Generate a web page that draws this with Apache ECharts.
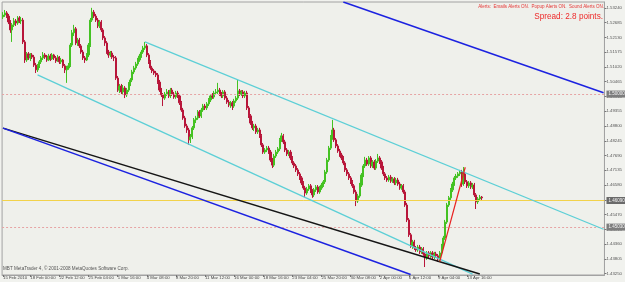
<!DOCTYPE html>
<html><head><meta charset="utf-8">
<script src="https://cdn.jsdelivr.net/npm/echarts/dist/echarts.min.js"></script>
<style>html,body{margin:0;padding:0;background:#f1f2ee;overflow:hidden}#c{width:625px;height:282px}</style>
</head><body><div id="c"></div>
<script>
// H4 bars, GBP/USD-like quotes
const opens=[
1.5290,1.5297,1.5305,1.5293,1.5271,1.5241,1.5260,1.5275,1.5267,1.5286,
1.5275,1.5278,1.5196,1.5128,1.5151,1.5136,1.5147,1.5139,1.5109,1.5091,
1.5106,1.5121,1.5136,1.5147,1.5139,1.5128,1.5143,1.5132,1.5147,1.5136,
1.5124,1.5139,1.5121,1.5128,1.5106,1.5091,1.5098,1.5106,1.5184,1.5230,
1.5245,1.5192,1.5203,1.5181,1.5158,1.5136,1.5128,1.5147,1.5184,1.5278,
1.5308,1.5293,1.5278,1.5256,1.5271,1.5241,1.5211,1.5192,1.5158,1.5147,
1.5154,1.5139,1.5136,1.5060,1.5015,1.5030,1.5008,1.5023,1.4997,1.5015,
1.5038,1.5053,1.5083,1.5098,1.5113,1.5128,1.5143,1.5158,1.5173,1.5181,
1.5147,1.5121,1.5098,1.5087,1.5079,1.5072,1.5045,1.5015,1.4997,1.4985,
1.5000,1.5008,1.4993,1.5015,1.5000,1.4989,1.5004,1.4993,1.4967,1.4940,
1.4910,1.4880,1.4865,1.4828,1.4839,1.4873,1.4903,1.4910,1.4933,1.4918,
1.4940,1.4955,1.4948,1.4963,1.4978,1.4993,1.4989,1.5004,1.5008,1.5015,
1.5000,1.4993,1.5008,1.4985,1.4970,1.4959,1.4967,1.4955,1.4974,1.4985,
1.5012,1.5000,1.5008,1.4993,1.5004,1.4948,1.4918,1.4891,1.4873,1.4880,
1.4858,1.4865,1.4843,1.4809,1.4782,1.4790,1.4797,1.4782,1.4752,1.4733,
1.4767,1.4782,1.4794,1.4828,1.4843,1.4820,1.4790,1.4775,1.4782,1.4760,
1.4741,1.4730,1.4715,1.4700,1.4685,1.4666,1.4647,1.4628,1.4643,1.4655,
1.4636,1.4621,1.4640,1.4651,1.4632,1.4647,1.4658,1.4670,1.4707,1.4752,
1.4797,1.4835,1.4865,1.4828,1.4805,1.4786,1.4771,1.4760,1.4741,1.4715,
1.4700,1.4685,1.4670,1.4655,1.4632,1.4598,1.4617,1.4658,1.4696,1.4730,
1.4752,1.4737,1.4760,1.4730,1.4745,1.4722,1.4748,1.4760,1.4745,1.4722,
1.4700,1.4685,1.4677,1.4688,1.4673,1.4681,1.4666,1.4677,1.4662,1.4647,
1.4655,1.4632,1.4583,1.4527,1.4471,1.4429,1.4444,1.4422,1.4414,1.4425,
1.4407,1.4418,1.4399,1.4384,1.4403,1.4392,1.4403,1.4388,1.4399,1.4392,
1.4380,1.4403,1.4429,1.4459,1.4519,1.4583,1.4610,1.4640,1.4662,1.4685,
1.4692,1.4700,1.4707,1.4662,1.4700,1.4670,1.4655,1.4666,1.4651,1.4658,
1.4621,1.4595,1.4606,1.4613];
const closes=[
1.5297,1.5305,1.5293,1.5271,1.5241,1.5260,1.5275,1.5267,1.5286,1.5275,
1.5278,1.5196,1.5128,1.5151,1.5136,1.5147,1.5139,1.5109,1.5091,1.5106,
1.5121,1.5136,1.5147,1.5139,1.5128,1.5143,1.5132,1.5147,1.5136,1.5124,
1.5139,1.5121,1.5128,1.5106,1.5091,1.5098,1.5106,1.5184,1.5230,1.5245,
1.5192,1.5203,1.5181,1.5158,1.5136,1.5128,1.5147,1.5184,1.5278,1.5308,
1.5293,1.5278,1.5256,1.5271,1.5241,1.5211,1.5192,1.5158,1.5147,1.5154,
1.5139,1.5136,1.5060,1.5015,1.5030,1.5008,1.5023,1.4997,1.5015,1.5038,
1.5053,1.5083,1.5098,1.5113,1.5128,1.5143,1.5158,1.5173,1.5181,1.5147,
1.5121,1.5098,1.5087,1.5079,1.5072,1.5045,1.5015,1.4997,1.4985,1.5000,
1.5008,1.4993,1.5015,1.5000,1.4989,1.5004,1.4993,1.4967,1.4940,1.4910,
1.4880,1.4865,1.4828,1.4839,1.4873,1.4903,1.4910,1.4933,1.4918,1.4940,
1.4955,1.4948,1.4963,1.4978,1.4993,1.4989,1.5004,1.5008,1.5015,1.5000,
1.4993,1.5008,1.4985,1.4970,1.4959,1.4967,1.4955,1.4974,1.4985,1.5012,
1.5000,1.5008,1.4993,1.5004,1.4948,1.4918,1.4891,1.4873,1.4880,1.4858,
1.4865,1.4843,1.4809,1.4782,1.4790,1.4797,1.4782,1.4752,1.4733,1.4767,
1.4782,1.4794,1.4828,1.4843,1.4820,1.4790,1.4775,1.4782,1.4760,1.4741,
1.4730,1.4715,1.4700,1.4685,1.4666,1.4647,1.4628,1.4643,1.4655,1.4636,
1.4621,1.4640,1.4651,1.4632,1.4647,1.4658,1.4670,1.4707,1.4752,1.4797,
1.4835,1.4865,1.4828,1.4805,1.4786,1.4771,1.4760,1.4741,1.4715,1.4700,
1.4685,1.4670,1.4655,1.4632,1.4598,1.4617,1.4658,1.4696,1.4730,1.4752,
1.4737,1.4760,1.4730,1.4745,1.4722,1.4748,1.4760,1.4745,1.4722,1.4700,
1.4685,1.4677,1.4688,1.4673,1.4681,1.4666,1.4677,1.4662,1.4647,1.4655,
1.4632,1.4583,1.4527,1.4471,1.4429,1.4444,1.4422,1.4414,1.4425,1.4407,
1.4418,1.4399,1.4384,1.4403,1.4392,1.4403,1.4388,1.4399,1.4392,1.4380,
1.4403,1.4429,1.4459,1.4519,1.4583,1.4610,1.4640,1.4662,1.4685,1.4692,
1.4700,1.4707,1.4662,1.4700,1.4670,1.4655,1.4666,1.4651,1.4658,1.4621,
1.4595,1.4606,1.4613,1.4610];
const lows=[
1.5282,1.5290,1.5286,1.5263,1.5230,1.5196,1.5252,1.5256,1.5260,1.5267,
1.5263,1.5188,1.5117,1.5121,1.5128,1.5124,1.5132,1.5102,1.5079,1.5083,
1.5098,1.5113,1.5128,1.5132,1.5121,1.5124,1.5124,1.5128,1.5128,1.5117,
1.5121,1.5113,1.5113,1.5098,1.5079,1.5042,1.5091,1.5102,1.5177,1.5218,
1.5184,1.5181,1.5173,1.5151,1.5128,1.5117,1.5124,1.5139,1.5177,1.5271,
1.5286,1.5271,1.5248,1.5248,1.5233,1.5203,1.5181,1.5151,1.5136,1.5139,
1.5132,1.5124,1.5053,1.5008,1.5004,1.5000,1.4997,1.4985,1.4989,1.5008,
1.5030,1.5045,1.5075,1.5091,1.5106,1.5121,1.5136,1.5151,1.5166,1.5139,
1.5113,1.5091,1.5079,1.5072,1.5064,1.5038,1.5008,1.4989,1.4955,1.4978,
1.4993,1.4985,1.4985,1.4993,1.4982,1.4982,1.4985,1.4959,1.4933,1.4903,
1.4873,1.4854,1.4809,1.4816,1.4831,1.4865,1.4891,1.4903,1.4910,1.4910,
1.4933,1.4940,1.4940,1.4955,1.4970,1.4982,1.4982,1.4997,1.5000,1.4993,
1.4985,1.4985,1.4978,1.4963,1.4951,1.4948,1.4940,1.4948,1.4967,1.4978,
1.4993,1.4993,1.4985,1.4985,1.4940,1.4910,1.4884,1.4865,1.4861,1.4850,
1.4850,1.4835,1.4801,1.4775,1.4775,1.4782,1.4775,1.4745,1.4722,1.4726,
1.4760,1.4775,1.4786,1.4820,1.4812,1.4782,1.4767,1.4767,1.4752,1.4733,
1.4722,1.4707,1.4692,1.4677,1.4658,1.4640,1.4613,1.4621,1.4636,1.4628,
1.4610,1.4613,1.4632,1.4625,1.4625,1.4640,1.4651,1.4662,1.4700,1.4745,
1.4790,1.4828,1.4820,1.4797,1.4779,1.4764,1.4752,1.4733,1.4707,1.4692,
1.4677,1.4662,1.4647,1.4625,1.4579,1.4591,1.4610,1.4651,1.4688,1.4722,
1.4730,1.4730,1.4722,1.4722,1.4715,1.4715,1.4741,1.4737,1.4715,1.4692,
1.4677,1.4670,1.4670,1.4666,1.4666,1.4658,1.4658,1.4655,1.4640,1.4640,
1.4625,1.4576,1.4519,1.4463,1.4422,1.4418,1.4414,1.4407,1.4407,1.4399,
1.4399,1.4392,1.4350,1.4377,1.4384,1.4384,1.4380,1.4380,1.4384,1.4369,
1.4373,1.4395,1.4422,1.4452,1.4512,1.4576,1.4602,1.4632,1.4655,1.4677,
1.4685,1.4692,1.4651,1.4655,1.4662,1.4647,1.4647,1.4643,1.4643,1.4613,
1.4568,1.4587,1.4598,1.4602];
const highs=[
1.5308,1.5316,1.5312,1.5301,1.5278,1.5267,1.5286,1.5282,1.5293,1.5293,
1.5290,1.5286,1.5203,1.5158,1.5158,1.5154,1.5154,1.5147,1.5117,1.5113,
1.5128,1.5143,1.5158,1.5154,1.5147,1.5151,1.5151,1.5154,1.5151,1.5143,
1.5147,1.5143,1.5136,1.5132,1.5113,1.5106,1.5117,1.5192,1.5241,1.5260,
1.5252,1.5211,1.5211,1.5188,1.5166,1.5143,1.5154,1.5192,1.5286,1.5324,
1.5316,1.5301,1.5286,1.5278,1.5278,1.5248,1.5218,1.5199,1.5166,1.5162,
1.5162,1.5147,1.5143,1.5068,1.5038,1.5038,1.5034,1.5030,1.5023,1.5045,
1.5060,1.5091,1.5106,1.5121,1.5136,1.5151,1.5166,1.5181,1.5196,1.5188,
1.5154,1.5128,1.5106,1.5094,1.5087,1.5079,1.5053,1.5023,1.5004,1.5008,
1.5019,1.5015,1.5023,1.5023,1.5008,1.5012,1.5012,1.5000,1.4974,1.4948,
1.4918,1.4888,1.4873,1.4850,1.4880,1.4910,1.4918,1.4940,1.4940,1.4948,
1.4963,1.4963,1.4970,1.4985,1.5000,1.5004,1.5012,1.5019,1.5042,1.5023,
1.5008,1.5015,1.5015,1.4993,1.4978,1.4974,1.4974,1.4982,1.4993,1.5053,
1.5019,1.5015,1.5015,1.5012,1.5012,1.4955,1.4925,1.4899,1.4888,1.4888,
1.4873,1.4873,1.4850,1.4816,1.4797,1.4805,1.4805,1.4790,1.4760,1.4775,
1.4790,1.4801,1.4835,1.4854,1.4850,1.4828,1.4797,1.4790,1.4790,1.4767,
1.4748,1.4737,1.4722,1.4707,1.4692,1.4673,1.4655,1.4651,1.4662,1.4662,
1.4643,1.4647,1.4658,1.4658,1.4655,1.4666,1.4677,1.4715,1.4760,1.4805,
1.4846,1.4903,1.4873,1.4835,1.4812,1.4794,1.4779,1.4767,1.4748,1.4722,
1.4707,1.4692,1.4677,1.4662,1.4640,1.4625,1.4666,1.4703,1.4737,1.4764,
1.4760,1.4767,1.4767,1.4752,1.4752,1.4756,1.4775,1.4767,1.4752,1.4730,
1.4707,1.4692,1.4696,1.4696,1.4688,1.4688,1.4685,1.4685,1.4670,1.4662,
1.4662,1.4640,1.4591,1.4534,1.4478,1.4452,1.4452,1.4429,1.4433,1.4433,
1.4425,1.4425,1.4407,1.4410,1.4410,1.4410,1.4410,1.4407,1.4407,1.4399,
1.4410,1.4437,1.4467,1.4527,1.4591,1.4617,1.4647,1.4670,1.4692,1.4700,
1.4707,1.4715,1.4715,1.4726,1.4707,1.4677,1.4673,1.4673,1.4666,1.4666,
1.4628,1.4613,1.4621,1.4617];

// time slots (bars plus the empty chart shift on the right)
const slotCount = 331;
const xTickIdx  = [0,15,31,47,63,79,95,111,127,143,159,175,191,207,223,239,255];
const xTickText = ['15 Feb 2010','18 Feb 00:00','22 Feb 12:00','25 Feb 04:00','1 Mar 16:00','4 Mar 08:00',
  '8 Mar 20:00','11 Mar 12:00','16 Mar 00:00','18 Mar 16:00','23 Mar 04:00','25 Mar 20:00',
  '30 Mar 08:00','2 Apr 00:00','6 Apr 12:00','9 Apr 04:00','13 Apr 16:00'];
const yTicks = [1.43250,1.43805,1.44360,1.44915,1.45470,1.46025,1.46580,1.47135,1.47690,1.48245,
  1.48800,1.49355,1.49910,1.50465,1.51020,1.51575,1.52130,1.52685,1.53240];
const yMin = 1.4320, yMax = 1.5346;

// drawn objects: [bar index, price]
const upperChannel = [[78,1.5196],[330,1.4492]];
const lowerChannel = [[19,1.5072],[258,1.4323]];
const blackTrend   = [[0,1.4872],[262,1.4324]];
const blueLower    = [[0,1.4872],[224,1.4322]];
const blueUpper    = [[187,1.5346],[330,1.5005]];
const redLine      = [[240,1.4370],[254,1.4725]];
const bidLevel = 1.4609;
const dashLevels = [1.5000, 1.4503];

const slots = Array.from({length: slotCount}, (_, i) => String(i));
const ohlc = opens.map((o, i) => [o, closes[i], lows[i], highs[i]]);

const FONT = 'Liberation Sans';
const tagLabel = (v) => ({
  show: true, position: 'end', distance: 2, formatter: v.toFixed(5),
  color: '#f6f6f6', backgroundColor: '#7d7d7d', padding: [1, 2], fontSize: 4.5, fontFamily: FONT
});

function lineSeries(data, color, width) {
  return { type: 'line', data: data, symbol: 'none', showSymbol: false, silent: true, animation: false,
    clip: true, z: 5, lineStyle: { color: color, width: width } };
}

const chart = echarts.init(document.getElementById('c'), null, { renderer: 'canvas' });
chart.setOption({
  backgroundColor: '#f1f2ee',
  animation: false,
  textStyle: { fontFamily: FONT },
  grid: { left: 2, right: 16, top: 2, bottom: 7, show: true, borderColor: '#a2a2a2', borderWidth: 1, backgroundColor: '#eff0eb' },
  xAxis: {
    type: 'category', data: slots, boundaryGap: true,
    axisLine: { show: true, lineStyle: { color: '#a2a2a2' } },
    axisTick: { show: true, alignWithLabel: true, length: 2, lineStyle: { color: '#777' },
      interval: (i) => xTickIdx.includes(i) },
    axisLabel: { show: true, align: 'left', margin: 1, fontSize: 4.3, color: '#444', fontFamily: FONT,
      interval: (i) => xTickIdx.includes(i),
      formatter: (v, i) => { const k = xTickIdx.indexOf(i); return k >= 0 ? xTickText[k] : ''; } },
    splitLine: { show: false }
  },
  yAxis: {
    type: 'value', position: 'right', min: yMin, max: yMax, scale: true,
    axisLine: { show: true, lineStyle: { color: '#a2a2a2' } },
    axisTick: { show: true, length: 2, lineStyle: { color: '#777' }, customValues: yTicks },
    axisLabel: { show: true, margin: 2, fontSize: 4.3, color: '#555', fontFamily: FONT,
      customValues: yTicks, formatter: (v) => v.toFixed(5) },
    splitLine: { show: false }
  },
  series: [
    {
      type: 'candlestick', data: ohlc, barWidth: 1.6, clip: true, z: 3,
      itemStyle: { color: '#44c222', color0: '#b8163a', borderColor: '#44c222', borderColor0: '#b8163a', borderWidth: 1 },
      markLine: {
        silent: true, symbol: ['none', 'none'], animation: false,
        data: [
          { yAxis: dashLevels[0], lineStyle: { color: '#e6a4a4', type: [2, 2], width: 1 }, label: tagLabel(dashLevels[0]) },
          { yAxis: dashLevels[1], lineStyle: { color: '#e6a4a4', type: [2, 2], width: 1 }, label: tagLabel(dashLevels[1]) },
          { yAxis: bidLevel, lineStyle: { color: '#f2d24a', type: 'solid', width: 1 },
            label: Object.assign(tagLabel(bidLevel), { backgroundColor: '#6a6a6a' }) }
        ]
      }
    },
    lineSeries(upperChannel, '#5ccfd6', 1.3),
    lineSeries(lowerChannel, '#5ccfd6', 1.3),
    lineSeries(blackTrend, '#151515', 1.5),
    lineSeries(blueLower, '#1c22e0', 1.5),
    lineSeries(blueUpper, '#1c22e0', 1.5),
    lineSeries(redLine, '#e82020', 1.2)
  ],
  graphic: [
    { type: 'text', right: 21, top: 4, style: { text: 'Alerts:  Emails Alerts ON.  Popup Alerts ON.  Sound Alerts ON.',
      fill: '#e53535', font: '4.5px "Liberation Sans"' } },
    { type: 'text', right: 22, top: 12.5, style: { text: 'Spread: 2.8 points.', fill: '#ee2a2a', font: '8.2px "Liberation Sans"' } },
    { type: 'text', left: 3, top: 266.5, style: { text: 'MBT MetaTrader 4, \u00a9 2001-2008 MetaQuotes Software Corp.',
      fill: '#555', font: '4.6px "Liberation Sans"' } }
  ]
});
</script>
</body></html>
